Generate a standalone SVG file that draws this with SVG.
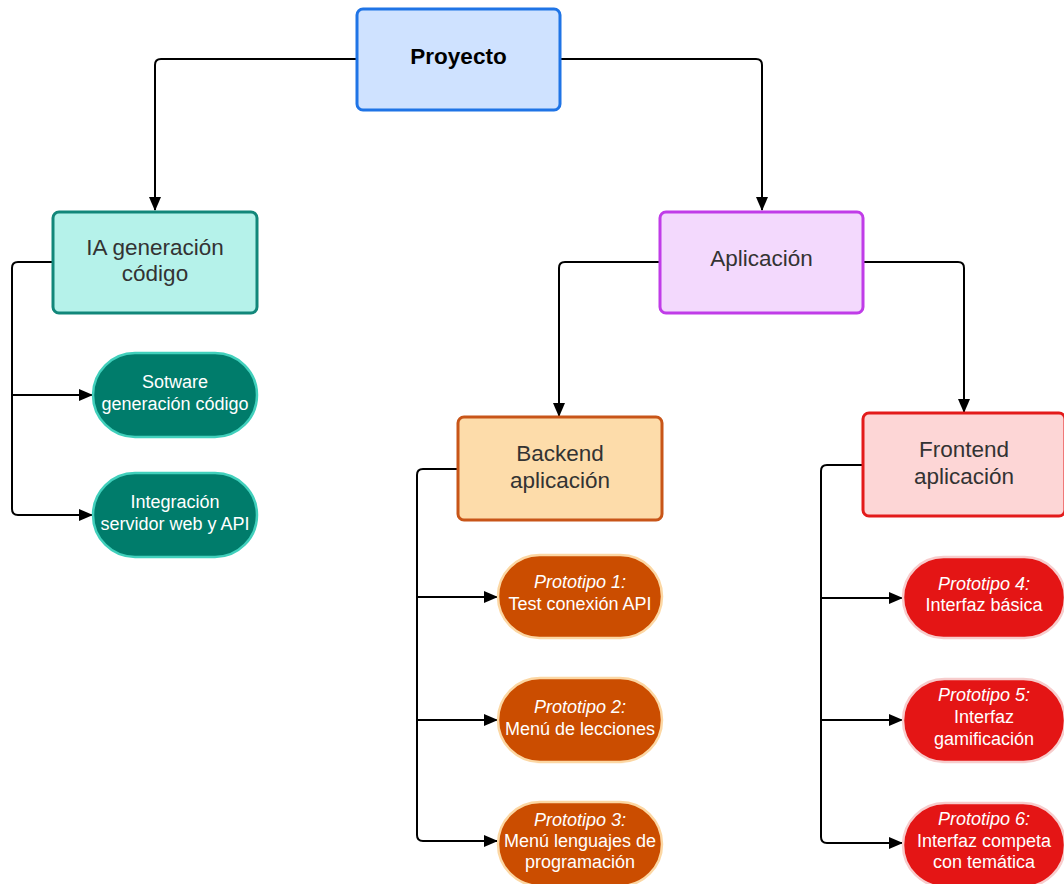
<svg xmlns="http://www.w3.org/2000/svg" width="1064" height="884" viewBox="0 0 1064 884">
<defs>
<marker id="ah" markerWidth="14" markerHeight="12" refX="13" refY="6" orient="auto" markerUnits="userSpaceOnUse">
<path d="M0,0 L14,6 L0,12 Z" fill="#000"/>
</marker>
<style>
.c{fill:none;stroke:#000;stroke-width:2;stroke-linejoin:round}
.ca{fill:none;stroke:#000;stroke-width:2;marker-end:url(#ah)}
text{font-family:"Liberation Sans",Arial,sans-serif;text-anchor:middle}
.t{font-size:22.5px;fill:#333}
.p{font-size:18px;fill:#fff}
.i{font-style:italic}
</style>
</defs>
<rect width="1064" height="884" fill="#fff"/>
<g id="connectors">
<path class="ca" d="M357,59 H161 Q155,59 155,65 V210"/>
<path class="ca" d="M560,59 H756 Q762,59 762,65 V210"/>
<path class="c" d="M53,262 H18 Q12,262 12,268 V509 Q12,515 18,515"/>
<path class="ca" d="M18,515 H92"/>
<path class="ca" d="M12,395 H92"/>
<path class="ca" d="M660,262 H565 Q559,262 559,268 V416"/>
<path class="ca" d="M863,262 H958 Q964,262 964,268 V412"/>
<path class="c" d="M458,469 H423 Q417,469 417,475 V835 Q417,841 423,841"/>
<path class="ca" d="M423,841 H497"/>
<path class="ca" d="M417,597 H497"/>
<path class="ca" d="M417,720 H497"/>
<path class="c" d="M863,465 H827 Q821,465 821,471 V837 Q821,843 827,843"/>
<path class="ca" d="M827,843 H902"/>
<path class="ca" d="M821,598 H902"/>
<path class="ca" d="M821,720 H902"/>
</g>
<g id="proyecto">
<rect x="357" y="9" width="203" height="101" rx="6" fill="#cfe2ff" stroke="#1f74e6" stroke-width="3"/>
<text x="458.5" y="64" font-size="22.5" font-weight="bold" fill="#000">Proyecto</text>
</g>
<g id="ia">
<rect x="53" y="212" width="204" height="101" rx="6" fill="#b5f2ea" stroke="#12877a" stroke-width="3"/>
<text class="t" x="155" y="255">IA generación</text>
<text class="t" x="155" y="281">código</text>
</g>
<g id="sotware">
<rect x="93" y="353" width="164" height="84" rx="42" fill="#007c6b" stroke="#41d0bc" stroke-width="2.5"/>
<text class="p" x="175" y="388">Sotware</text>
<text class="p" x="175" y="410">generación código</text>
</g>
<g id="integracion">
<rect x="93" y="473" width="164" height="84" rx="42" fill="#007c6b" stroke="#41d0bc" stroke-width="2.5"/>
<text class="p" x="175" y="508">Integración</text>
<text class="p" x="175" y="530">servidor web y API</text>
</g>
<g id="aplicacion">
<rect x="660" y="212" width="203" height="101" rx="6" fill="#f3d9fd" stroke="#c03ce8" stroke-width="3"/>
<text class="t" x="761.5" y="266">Aplicación</text>
</g>
<g id="backend">
<rect x="458" y="417" width="204" height="103" rx="6" fill="#fddcaa" stroke="#c85518" stroke-width="3"/>
<text class="t" x="560" y="461">Backend</text>
<text class="t" x="560" y="488">aplicación</text>
</g>
<g id="proto1">
<rect x="498" y="555" width="164" height="83" rx="41.5" fill="#cb4d00" stroke="#fcd7a3" stroke-width="2.5"/>
<text class="p i" x="580" y="588">Prototipo 1:</text>
<text class="p" x="580" y="610">Test conexión API</text>
</g>
<g id="proto2">
<rect x="498" y="678" width="164" height="84" rx="42" fill="#cb4d00" stroke="#fcd7a3" stroke-width="2.5"/>
<text class="p i" x="580" y="713">Prototipo 2:</text>
<text class="p" x="580" y="735">Menú de lecciones</text>
</g>
<g id="proto3">
<rect x="498" y="802" width="164" height="84" rx="42" fill="#cb4d00" stroke="#fcd7a3" stroke-width="2.5"/>
<text class="p i" x="580" y="826">Prototipo 3:</text>
<text class="p" x="580" y="847">Menú lenguajes de</text>
<text class="p" x="580" y="868">programación</text>
</g>
<g id="frontend">
<rect x="863" y="413" width="202" height="103" rx="6" fill="#fdd6d6" stroke="#e31b1b" stroke-width="3"/>
<text class="t" x="964" y="457">Frontend</text>
<text class="t" x="964" y="484">aplicación</text>
</g>
<g id="proto4">
<rect x="903" y="557" width="162" height="81" rx="40.5" fill="#e41515" stroke="#f7cccc" stroke-width="2.5"/>
<text class="p i" x="984" y="590">Prototipo 4:</text>
<text class="p" x="984" y="611">Interfaz básica</text>
</g>
<g id="proto5">
<rect x="903" y="679" width="162" height="83" rx="41.5" fill="#e41515" stroke="#f7cccc" stroke-width="2.5"/>
<text class="p i" x="984" y="701">Prototipo 5:</text>
<text class="p" x="984" y="723">Interfaz</text>
<text class="p" x="984" y="745">gamificación</text>
</g>
<g id="proto6">
<rect x="903" y="803" width="162" height="84" rx="42" fill="#e41515" stroke="#f7cccc" stroke-width="2.5"/>
<text class="p i" x="984" y="825">Prototipo 6:</text>
<text class="p" x="984" y="847">Interfaz competa</text>
<text class="p" x="984" y="868">con temática</text>
</g>
</svg>
